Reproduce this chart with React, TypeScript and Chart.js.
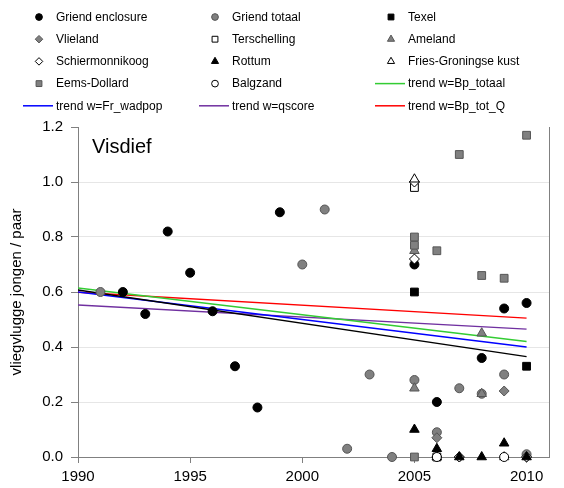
import React, { useEffect, useRef } from 'react';
import { Chart, registerables } from 'chart.js';
import { drawPoint } from 'chart.js/helpers';

Chart.register(...registerables);

// ---- data: [year, fledglings per pair] ----
const griendEnclosure = [
  [1992, 0.6], [1993, 0.52], [1994, 0.82], [1995, 0.67], [1996, 0.53], [1997, 0.33],
  [1998, 0.18], [1999, 0.89], [2005, 0.7], [2006, 0.2], [2008, 0.36], [2009, 0.54], [2010, 0.56],
];
const griendTotaal = [
  [1991, 0.6], [2000, 0.7], [2001, 0.9], [2002, 0.03], [2003, 0.3], [2004, 0.0], [2005, 0.28],
  [2006, 0.09], [2007, 0.25], [2008, 0.23], [2009, 0.3], [2010, 0.01],
];
const texel = [[2005, 0.6], [2010, 0.33]];
const vlieland = [[2005, 1.0], [2006, 0.07], [2007, 0.0], [2009, 0.24], [2010, 0.0]];
const terschelling = [[2005, 0.98], [2006, 0.0]];
const ameland = [[2005, 0.75], [2005, 0.25], [2008, 0.45], [2008, 0.23], [2009, 0.0]];
const schiermonnikoog = [[2005, 1.0], [2005, 0.72], [2006, 0.0], [2007, 0.0], [2010, 0.0]];
const rottum = [[2005, 0.1], [2006, 0.03], [2007, 0.0], [2008, 0.0], [2009, 0.05], [2010, 0.0]];
const friesGroningseKust = [[2005, 1.01], [2006, 0.0]];
const eemsDollard = [
  [2005, 0.8], [2005, 0.77], [2005, 0.0], [2006, 0.75], [2007, 1.1], [2008, 0.66], [2009, 0.65], [2010, 1.17],
];
const balgzand = [[2006, 0.0], [2009, 0.0]];

const trendYears = [1990, 2010];
const trendUnweighted = [0.607, 0.365];
const trendBpTotaal = [0.615, 0.42];
const trendFrWadpop = [0.6, 0.4];
const trendQscore = [0.553, 0.465];
const trendBpTotQ = [0.599, 0.505];

const xTicks = [1990, 1995, 2000, 2005, 2010];
const yTicks = [0, 0.2, 0.4, 0.6, 0.8, 1.0, 1.2];

const FONT = '"Liberation Sans", Arial, sans-serif';
const GRAY = '#808080';
const GRAY_EDGE = '#555555';

type Marker = { style: string; fill: string; edge: string; r: number };
const CIRCLE_R = 4.5, RECT_R = 5.5, DIAM_R = 5, TRI_R = 5.5;

const seriesDefs: Array<[string, number[][], Marker]> = [
  ['Griend enclosure', griendEnclosure, { style: 'circle', fill: '#000', edge: '#000', r: CIRCLE_R }],
  ['Griend totaal', griendTotaal, { style: 'circle', fill: GRAY, edge: GRAY_EDGE, r: CIRCLE_R }],
  ['Texel', texel, { style: 'rect', fill: '#000', edge: '#000', r: RECT_R }],
  ['Vlieland', vlieland, { style: 'rectRot', fill: GRAY, edge: GRAY_EDGE, r: DIAM_R }],
  ['Terschelling', terschelling, { style: 'rect', fill: '#fff', edge: '#000', r: RECT_R }],
  ['Ameland', ameland, { style: 'triangle', fill: GRAY, edge: GRAY_EDGE, r: TRI_R }],
  ['Schiermonnikoog', schiermonnikoog, { style: 'rectRot', fill: '#fff', edge: '#000', r: DIAM_R }],
  ['Rottum', rottum, { style: 'triangle', fill: '#000', edge: '#000', r: TRI_R }],
  ['Fries-Groningse kust', friesGroningseKust, { style: 'triangle', fill: '#fff', edge: '#000', r: TRI_R }],
  ['Eems-Dollard', eemsDollard, { style: 'rect', fill: GRAY, edge: GRAY_EDGE, r: RECT_R }],
  ['Balgzand', balgzand, { style: 'circle', fill: '#fff', edge: '#000', r: CIRCLE_R }],
];

const trendDefs: Array<[string, number[], string, boolean]> = [
  ['trend', trendUnweighted, '#000000', false],
  ['trend w=Bp_totaal', trendBpTotaal, '#33cc33', true],
  ['trend w=Fr_wadpop', trendFrWadpop, '#0000ff', true],
  ['trend w=qscore', trendQscore, '#7030a0', true],
  ['trend w=Bp_tot_Q', trendBpTotQ, '#ff0000', true],
];

const LEGEND_TEXT_X = [56, 232, 408];
const LEGEND_TOP = 17;
const LEGEND_ROW = 22.2;

const legendPlugin = {
  id: 'gridLegend',
  afterDraw(chart: any) {
    const ctx = chart.ctx as CanvasRenderingContext2D;
    const area = chart.chartArea;
    ctx.save();
    // right border of plot
    ctx.strokeStyle = GRAY;
    ctx.lineWidth = 1;
    ctx.beginPath();
    ctx.moveTo(Math.round(area.right) + 0.5, area.top);
    ctx.lineTo(Math.round(area.right) + 0.5, area.bottom);
    ctx.stroke();

    // panel title
    ctx.fillStyle = '#000';
    ctx.font = `20px ${FONT}`;
    ctx.textBaseline = 'alphabetic';
    ctx.textAlign = 'left';
    ctx.fillText('Visdief', area.left + 14, area.top + 26);

    // legend
    ctx.font = `12px ${FONT}`;
    ctx.textBaseline = 'middle';
    const items = chart.data.datasets.filter((d: any) => d.inLegend);
    items.forEach((d: any, i: number) => {
      const col = i % 3;
      const row = Math.floor(i / 3);
      const y = LEGEND_TOP + row * LEGEND_ROW;
      const tx = LEGEND_TEXT_X[col];
      if (d.isTrend) {
        ctx.strokeStyle = d.borderColor;
        ctx.lineWidth = 1.5;
        ctx.beginPath();
        ctx.moveTo(tx - 33, y);
        ctx.lineTo(tx - 3, y);
        ctx.stroke();
      } else {
        ctx.fillStyle = d.backgroundColor;
        ctx.strokeStyle = d.borderColor;
        ctx.lineWidth = 1;
        drawPoint(ctx, { pointStyle: d.pointStyle, radius: d.pointRadius * 0.75, rotation: 0, borderWidth: 1 } as any, tx - 17, y);
      }
      ctx.fillStyle = '#000';
      ctx.fillText(d.label, tx, y + 0.5);
    });
    ctx.restore();
  },
};

export default function App() {
  const ref = useRef<HTMLCanvasElement>(null);
  useEffect(() => {
    document.body.style.margin = '0';
    const datasets: any[] = [];
    seriesDefs.forEach(([label, pts, m], i) => {
      datasets.push({
        type: 'scatter',
        label,
        data: pts.map(([x, y]) => ({ x, y })),
        pointStyle: m.style,
        pointRadius: m.r,
        pointHoverRadius: m.r,
        backgroundColor: m.fill,
        borderColor: m.edge,
        borderWidth: 1,
        showLine: false,
        clip: false,
        order: 100 - i,
        inLegend: true,
        isTrend: false,
      });
    });
    trendDefs.forEach(([label, vals, color, inLegend]) => {
      datasets.push({
        type: 'line',
        label,
        data: trendYears.map((x, k) => ({ x, y: vals[k] })),
        borderColor: color,
        backgroundColor: color,
        borderWidth: 1.5,
        pointRadius: 0,
        fill: false,
        tension: 0,
        order: 200,
        inLegend,
        isTrend: true,
      });
    });

    const chart = new Chart(ref.current!, {
      type: 'scatter',
      data: { datasets },
      plugins: [legendPlugin],
      options: {
        animation: false,
        responsive: true,
        maintainAspectRatio: false,
        layout: { padding: { top: 127, right: 15, left: 0, bottom: 0 } },
        plugins: { legend: { display: false }, tooltip: { enabled: false } },
        scales: {
          x: {
            type: 'linear',
            min: 1990,
            max: 2011,
            afterBuildTicks: (s: any) => { s.ticks = xTicks.map((v) => ({ value: v })); },
            afterFit: (s: any) => { s.height = 31; },
            ticks: {
              callback: (v: any) => String(v),
              font: { family: FONT, size: 15 },
              color: '#000',
              padding: 5,
              maxRotation: 0,
            },
            grid: { drawOnChartArea: false, tickLength: 6, tickColor: GRAY, color: GRAY },
            border: { color: GRAY, width: 1 },
          },
          y: {
            type: 'linear',
            min: 0,
            max: 1.2,
            afterBuildTicks: (s: any) => { s.ticks = yTicks.map((v) => ({ value: v })); },
            afterFit: (s: any) => { s.width = 78; },
            ticks: {
              callback: (v: any) => Number(v).toFixed(1),
              font: { family: FONT, size: 15 },
              color: '#000',
              padding: 8,
            },
            grid: {
              color: (c: any) => {
                const v = c.tick ? c.tick.value : 0;
                return Math.abs(v) < 1e-6 || Math.abs(v - 1.2) < 1e-6 ? 'rgba(0,0,0,0)' : '#e6e6e6';
              },
              tickColor: GRAY,
              tickLength: 7,
            },
            border: { color: GRAY, width: 1 },
            title: {
              display: true,
              text: 'vliegvlugge jongen / paar',
              font: { family: FONT, size: 15 },
              color: '#000',
              padding: { top: 8, bottom: 0 },
            },
          },
        },
      } as any,
    });
    return () => chart.destroy();
  }, []);
  return (
    <div style={{ position: 'absolute', left: 0, top: 0, width: 564, height: 488 }}>
      <canvas ref={ref} />
    </div>
  );
}
